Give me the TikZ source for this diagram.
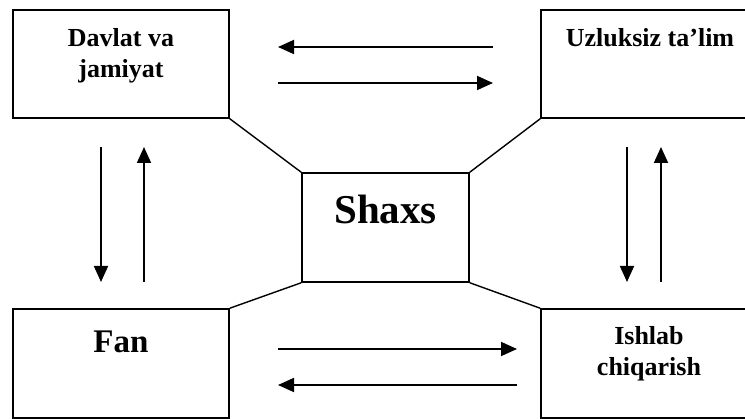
\documentclass[tikz,border=0pt]{standalone}
\usepackage{fontspec}
\setmainfont{Liberation Serif}
\usetikzlibrary{arrows.meta}
\begin{document}
\begin{tikzpicture}[x=1pt,y=-1pt,
  box/.style={draw, line width=1.5pt, rectangle, inner sep=0pt},
  lbl/.style={inner sep=0pt, anchor=base, font=\fontsize{26}{30}\selectfont\bfseries},
  link/.style={line width=1.4pt},
  arr/.style={line width=1.8pt, -{Triangle[length=16pt,width=14pt]}}]
\useasboundingbox (0,0) rectangle (745,419);
\clip (0,0) rectangle (745,419);
\fill[white] (0,0) rectangle (745,419);
% boxes
\node[box, minimum width=216pt, minimum height=108pt] (tl) at (121,64) {};
\node[box, minimum width=216pt, minimum height=108pt] (tr) at (649,64) {};
\node[box, minimum width=167pt, minimum height=109pt] (c) at (385.5,227.5) {};
\node[box, minimum width=216pt, minimum height=109pt] (bl) at (121,363.5) {};
\node[box, minimum width=216pt, minimum height=109pt] (br) at (649,363.5) {};
% texts
\node[lbl] (t1a) at (121,46.7) {Davlat va};
\node[lbl] (t1b) at (121,77.3) {jamiyat};
\node[lbl] (t2) at (650,46.7) {Uzluksiz ta’lim};
\node[lbl, font=\fontsize{41}{46}\selectfont\bfseries] (t3) at (385.5,223.3) {Shaxs};
\node[lbl, font=\fontsize{33}{38}\selectfont\bfseries] (t4) at (121,352.3) {Fan};
\node[lbl] (t5a) at (649,345) {Ishlab};
\node[lbl] (t5b) at (649,375.7) {chiqarish};
% diagonal links
\draw[link] (tl.south east) -- (c.north west);
\draw[link] (tr.south west) -- (c.north east);
\draw[link] (c.south west) -- (bl.north east);
\draw[link] (c.south east) -- (br.north west);
% arrow end points
\coordinate (h1r) at (493,47);  \coordinate (h1l) at (278,47);
\coordinate (h2l) at (278,83);  \coordinate (h2r) at (493,83);
\coordinate (h3l) at (278,349); \coordinate (h3r) at (517,349);
\coordinate (h4r) at (517,385); \coordinate (h4l) at (278,385);
\coordinate (v1t) at (101,147); \coordinate (v1b) at (101,282);
\coordinate (v2b) at (144,282); \coordinate (v2t) at (144,147);
\coordinate (v3t) at (627,147); \coordinate (v3b) at (627,282);
\coordinate (v4b) at (661,282); \coordinate (v4t) at (661,147);
% arrows
\draw[arr] (h1r) -- (h1l);
\draw[arr] (h2l) -- (h2r);
\draw[arr] (h3l) -- (h3r);
\draw[arr] (h4r) -- (h4l);
\draw[arr] (v1t) -- (v1b);
\draw[arr] (v2b) -- (v2t);
\draw[arr] (v3t) -- (v3b);
\draw[arr] (v4b) -- (v4t);
\end{tikzpicture}
\end{document}
